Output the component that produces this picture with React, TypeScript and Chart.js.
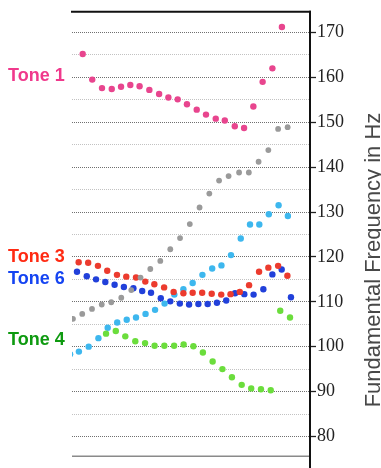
import React, { useEffect, useRef } from 'react';
import { Chart, registerables } from 'chart.js';

Chart.register(...registerables);

const W = 381;
const H = 468;

// Normalised time (0–100 across the visible plot) and F0 in Hz
const tone1T = [4.5, 8.5, 12.6, 16.7, 20.6, 24.5, 28.4, 32.5, 36.6, 40.5, 44.4, 48.3, 52.4, 56.3, 60.4, 64.2, 68.4, 72.3, 76.2, 80.1, 84.2, 88.2];
const tone1Hz = [165.2, 159.5, 157.6, 157.4, 157.9, 158.3, 158.0, 157.2, 156.3, 155.5, 155.1, 154.0, 152.8, 151.7, 150.8, 150.4, 149.1, 148.7, 153.5, 159.0, 162.0, 171.2];

const tone2T = [0.4, 4.3, 8.4, 12.5, 16.5, 20.7, 24.9, 28.8, 32.9, 37.1, 41.3, 45.4, 49.5, 53.6, 57.7, 61.8, 65.8, 70.2, 74.3, 78.4, 82.5, 86.6, 90.6];
const tone2Hz = [106.2, 107.3, 108.4, 109.4, 109.9, 110.9, 112.6, 115.4, 117.3, 119.1, 121.7, 124.2, 127.3, 131.0, 134.1, 137.0, 138.0, 138.8, 138.8, 141.2, 143.8, 148.5, 148.9];

const tone3T = [2.8, 6.8, 10.9, 14.8, 18.9, 22.8, 26.9, 30.8, 34.6, 38.7, 42.7, 46.8, 50.7, 54.7, 58.7, 62.7, 66.6, 70.5, 74.4, 78.6, 82.5, 86.6, 90.5];
const tone3Hz = [118.8, 118.7, 118.0, 116.9, 116.0, 115.6, 115.4, 114.5, 113.9, 113.2, 112.2, 111.9, 112.0, 112.0, 111.8, 111.6, 111.7, 112.2, 113.7, 116.7, 117.6, 118.0, 115.8];

const tone4T = [14.3, 18.4, 22.4, 26.6, 30.7, 34.7, 38.8, 42.9, 46.9, 51.0, 55.0, 59.1, 63.2, 67.2, 71.3, 75.3, 79.4, 83.5, 87.5, 91.6];
const tone4Hz = [102.9, 103.5, 102.3, 101.2, 100.8, 100.2, 100.2, 100.2, 100.5, 100.1, 98.7, 96.7, 95.0, 93.2, 91.5, 90.7, 90.5, 90.3, 108.0, 106.5];

const tone5T = [-0.8, 2.9, 7.0, 11.1, 15.0, 19.0, 23.0, 26.9, 30.9, 34.9, 38.9, 43.0, 46.8, 50.7, 54.8, 58.9, 62.8, 66.8, 70.9, 74.8, 78.7, 82.7, 86.8, 90.7];
const tone5Hz = [98.3, 98.9, 100.0, 101.9, 104.2, 105.4, 106.0, 106.5, 107.3, 108.2, 109.6, 111.6, 112.8, 114.2, 116.0, 117.4, 118.1, 120.4, 124.1, 127.2, 127.2, 129.5, 131.5, 129.1];

const tone6T = [2.1, 6.2, 10.1, 14.0, 17.9, 21.8, 25.8, 29.5, 33.2, 37.3, 41.3, 45.3, 49.2, 53.1, 57.0, 60.9, 64.8, 68.5, 72.4, 76.3, 80.4, 84.2, 88.1, 92.0];
const tone6Hz = [116.7, 115.7, 115.0, 114.4, 113.8, 113.3, 113.0, 112.4, 112.0, 110.8, 110.1, 109.6, 109.4, 109.5, 109.5, 109.8, 110.3, 111.9, 111.7, 111.6, 112.8, 116.1, 117.2, 111.0];

const seriesNames = ['Tone 1', 'Tone 2', 'Tone 3', 'Tone 4', 'Tone 5', 'Tone 6'];
const seriesT = [tone1T, tone2T, tone3T, tone4T, tone5T, tone6T];
const seriesHz = [tone1Hz, tone2Hz, tone3Hz, tone4Hz, tone5Hz, tone6Hz];
const seriesColors = ['#E8458E', '#9A9A9A', '#EC3B2E', '#6BDD3C', '#3DB7EE', '#2140DA'];

const labelTexts = ['Tone 1', 'Tone 3', 'Tone 6', 'Tone 4'];
const labelHz = [160.3, 120.0, 115.1, 101.4];
const labelColors = ['#F0398C', '#FF2A12', '#1544F2', '#0E9A10'];

const yTicksMajor = [80, 90, 100, 110, 120, 130, 140, 150, 160, 170];
const yMin = 75.6;
const yMax = 174.6;
const yTitle = 'Fundamental Frequency in Hz';

const decorPlugin = {
  id: 'decor',
  afterDraw(chart: any) {
    const { ctx, chartArea: a, scales } = chart;
    const y = scales.y;
    ctx.save();
    // frame lines
    ctx.strokeStyle = '#8a8a8a';
    ctx.lineWidth = 1.5;
    ctx.beginPath();
    ctx.moveTo(a.left, a.bottom);
    ctx.lineTo(a.right, a.bottom);
    ctx.stroke();
    ctx.strokeStyle = '#111';
    ctx.lineWidth = 2;
    ctx.beginPath();
    ctx.moveTo(a.left - 1, a.top);
    ctx.lineTo(a.right + 1, a.top);
    ctx.stroke();
    ctx.beginPath();
    ctx.moveTo(a.right, a.top - 1);
    ctx.lineTo(a.right, chart.height);
    ctx.stroke();
    // tone labels
    ctx.font = 'bold 18px "Liberation Sans", Arial, sans-serif';
    ctx.textAlign = 'left';
    ctx.textBaseline = 'middle';
    labelTexts.forEach((t, i) => {
      ctx.fillStyle = labelColors[i];
      ctx.fillText(t, 8, y.getPixelForValue(labelHz[i]));
    });
    // axis title (reads bottom to top)
    ctx.translate(chart.width - 1, (a.top + a.bottom) / 2 + 26);
    ctx.rotate(-Math.PI / 2);
    ctx.font = '22px "Liberation Sans", Arial, sans-serif';
    ctx.fillStyle = '#484848';
    ctx.textAlign = 'center';
    ctx.textBaseline = 'alphabetic';
    ctx.fillText(yTitle, 0, 0);
    ctx.restore();
  },
};

export default function App() {
  const ref = useRef<HTMLCanvasElement | null>(null);

  useEffect(() => {
    if (!ref.current) return;
    const datasets = seriesNames.map((name, i) => ({
      label: name,
      data: seriesT[i].map((t, k) => ({ x: t, y: seriesHz[i][k] })),
      backgroundColor: seriesColors[i],
      borderColor: seriesColors[i],
      borderWidth: 0,
      pointRadius: i === 1 ? 2.9 : 3.2,
      pointHoverRadius: 3,
      showLine: false,
      clip: 0,
    }));
    const chart = new Chart(ref.current, {
      type: 'scatter',
      data: { datasets },
      options: {
        responsive: false,
        animation: false,
        events: [],
        layout: { padding: { left: 72, top: 11, right: 0, bottom: 2 } },
        plugins: { legend: { display: false }, tooltip: { enabled: false } },
        scales: {
          x: { type: 'linear', min: 0, max: 100, display: false },
          y: {
            type: 'linear',
            position: 'right',
            min: yMin,
            max: yMax,
            afterBuildTicks: (scale: any) => {
              const out: any[] = [];
              for (let v = 80; v <= 170; v += 5) out.push({ value: v });
              scale.ticks = out;
            },
            afterFit: (scale: any) => {
              scale.width = 71;
            },
            border: { display: false, dash: [1, 1] },
            grid: {
              color: (ctx: any) => (yTicksMajor.includes(ctx.tick?.value) ? '#707070' : '#c2c2c2'),
              lineWidth: 1,
              drawTicks: true,
              tickLength: 6,
              tickColor: (ctx: any) => (yTicksMajor.includes(ctx.tick?.value) ? '#222' : 'rgba(0,0,0,0)'),
              tickWidth: 1.3,
              tickBorderDash: [],
            },
            ticks: {
              autoSkip: false,
              padding: 1,
              color: '#222',
              font: { family: '"Liberation Serif", "Times New Roman", serif', size: 18 },
              callback: (v: any) => (yTicksMajor.includes(Number(v)) ? String(v) : ''),
            },
          },
        },
      },
      plugins: [decorPlugin],
    } as any);
    return () => chart.destroy();
  }, []);

  return (
    <div style={{ position: 'absolute', left: 0, top: 0, width: W, height: H, background: '#fff' }}>
      <canvas ref={ref} width={W} height={H} style={{ display: 'block' }} />
    </div>
  );
}
